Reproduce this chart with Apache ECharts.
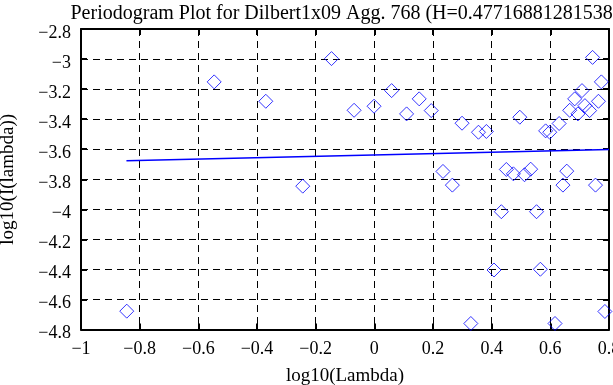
<!DOCTYPE html>
<html><head><meta charset="utf-8">
<script src="https://cdn.jsdelivr.net/npm/echarts@6/dist/echarts.min.js"></script>
<style>html,body{margin:0;padding:0;background:#fff}#c{width:613px;height:385px}</style>
</head><body><div id="c"></div>
<script>
var titleText = 'Periodogram Plot for Dilbert1x09 Agg. 768 (H=0.477168812815387)';
var xName = 'log10(Lambda)';
var yName = 'log10(I(lambda))';
var xTicks = [-1, -0.8, -0.6, -0.4, -0.2, 0, 0.2, 0.4, 0.6, 0.8];
var yTicks = [-4.8, -4.6, -4.4, -4.2, -4, -3.8, -3.6, -3.4, -3.2, -3, -2.8];
var pointsX = [-0.844, -0.546, -0.370, -0.244, -0.146, -0.069, -0.001, 0.059, 0.110, 0.153,
  0.194, 0.234, 0.266, 0.299, 0.355, 0.382, 0.450, 0.474, 0.512, 0.533,
  0.496, 0.584, 0.598, 0.630, 0.656, 0.643, 0.666, 0.683, 0.708, 0.694,
  0.718, 0.734, 0.764, 0.774, 0.744, 0.754, 0.433, 0.553, 0.408, 0.566,
  0.329, 0.616, 0.786];
var pointsY = [-4.678, -3.152, -3.281, -3.846, -2.997, -3.341, -3.314, -3.210, -3.365, -3.265,
  -3.343, -3.748, -3.839, -3.427, -3.487, -3.482, -3.735, -3.764, -3.770, -3.733,
  -3.387, -3.478, -3.487, -3.429, -3.746, -3.839, -3.341, -3.265, -3.210, -3.365,
  -3.310, -3.343, -3.281, -3.152, -2.989, -3.839, -4.016, -4.016, -4.404, -4.399,
  -4.760, -4.760, -4.680];
var fitX = [-0.845, 0.8];
var fitY = [-3.677, -3.602];

var pts = pointsX.map(function (x, i) { return [x, pointsY[i]]; });
var fit = fitX.map(function (x, i) { return [x, fitY[i]]; });
var font = 'Liberation Serif';
function fmt(v) { return (v < 0 ? '\u2212' : '') + Math.abs(Math.round(v * 10) / 10); }
var grid = { left: 81, right: 4, top: 29, bottom: 55.5, containLabel: false, outerBoundsMode: 'none' };
var chart = echarts.init(document.getElementById('c'), null, { renderer: 'canvas' });
var axLine = { show: true, onZero: false, lineStyle: { color: '#000', width: 2 } };
var tick = { show: true, inside: true, length: 6, lineStyle: { color: '#000', width: 2 } };
var split = { show: true, lineStyle: { color: '#000', width: 1, type: [7, 5] } };
chart.setOption({
  animation: false,
  title: { text: titleText, left: 345, textAlign: 'center', top: -1,
    textStyle: { fontFamily: font, fontSize: 20, fontWeight: 'normal', color: '#000' } },
  grid: grid,
  xAxis: [
    { type: 'value', min: -1, max: 0.8, interval: 0.2, position: 'bottom',
      name: xName, nameLocation: 'middle', nameGap: 37,
      nameTextStyle: { fontFamily: font, fontSize: 19, color: '#000' },
      axisLine: axLine, axisTick: tick, splitLine: split,
      axisLabel: { fontFamily: font, fontSize: 18, color: '#000', margin: 11, formatter: fmt } },
    { type: 'value', min: -1, max: 0.8, interval: 0.2, position: 'top',
      axisLine: axLine, axisTick: tick, splitLine: { show: false }, axisLabel: { show: false } }
  ],
  yAxis: [
    { type: 'value', min: -4.8, max: -2.8, interval: 0.2, position: 'left',
      name: yName, nameLocation: 'middle', nameGap: 63, nameRotate: 90,
      nameTextStyle: { fontFamily: font, fontSize: 19, color: '#000' },
      axisLine: axLine, axisTick: tick, splitLine: split,
      axisLabel: { fontFamily: font, fontSize: 18, color: '#000', margin: 10,
        verticalAlign: 'top', lineHeight: 8, formatter: fmt } },
    { type: 'value', min: -4.8, max: -2.8, interval: 0.2, position: 'right',
      axisLine: axLine, axisTick: tick, splitLine: { show: false }, axisLabel: { show: false } }
  ],
  series: [
    { type: 'scatter', data: pts, symbol: 'diamond', symbolSize: 14,
      itemStyle: { color: 'rgba(0,0,0,0)', borderColor: '#0000ff', borderWidth: 1 } },
    { type: 'line', data: fit, showSymbol: false, symbol: 'none',
      lineStyle: { color: '#0000ff', width: 1.5 } }
  ]
});
</script></body></html>
